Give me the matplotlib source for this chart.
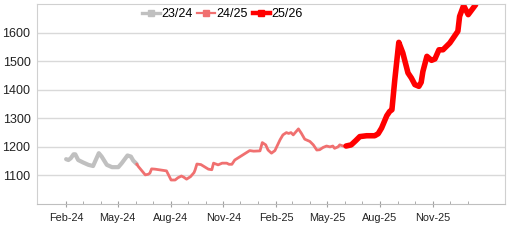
# price chart, three seasons

import matplotlib
matplotlib.use("Agg")
import matplotlib.pyplot as plt
import matplotlib.dates as mdates
from matplotlib.lines import Line2D
import numpy as np
import pandas as pd

plt.rcParams['font.family'] = ['Liberation Sans', 'DejaVu Sans']
plt.rcParams['font.size'] = 8

# season 23/24
d2324 = ['2024-02-01', '2024-02-05', '2024-02-09', '2024-02-14', '2024-02-17', '2024-02-22',
         '2024-03-02', '2024-03-11', '2024-03-19', '2024-03-29', '2024-04-03', '2024-04-12',
         '2024-04-21', '2024-05-02', '2024-05-08', '2024-05-18', '2024-05-24', '2024-05-28',
         '2024-06-03']
v2324 = [1157, 1154, 1160, 1174, 1174, 1154, 1145, 1137, 1133, 1178, 1166, 1137,
         1129, 1129, 1143, 1170, 1166, 1152, 1140]

# season 24/25
d2425 = ['2024-06-03', '2024-06-06', '2024-06-18', '2024-06-23', '2024-06-26', '2024-06-29',
         '2024-07-05', '2024-07-25', '2024-07-29', '2024-08-02', '2024-08-09', '2024-08-14',
         '2024-08-20', '2024-08-24', '2024-08-29', '2024-09-05', '2024-09-11', '2024-09-13',
         '2024-09-16', '2024-09-23', '2024-10-06', '2024-10-12', '2024-10-15', '2024-10-23',
         '2024-10-30', '2024-11-07', '2024-11-11', '2024-11-16', '2024-11-21', '2024-12-17',
         '2024-12-24', '2025-01-04', '2025-01-08', '2025-01-14', '2025-01-18', '2025-01-24',
         '2025-01-30', '2025-02-08', '2025-02-13', '2025-02-19', '2025-02-23', '2025-02-27',
         '2025-03-03', '2025-03-12', '2025-03-17', '2025-03-23', '2025-04-01', '2025-04-07',
         '2025-04-13', '2025-04-18', '2025-04-24', '2025-04-30', '2025-05-06', '2025-05-11',
         '2025-05-14', '2025-05-20', '2025-05-23', '2025-05-29', '2025-06-03']
v2425 = [1140, 1131, 1102, 1104, 1108, 1123,
         1122, 1116, 1100, 1084, 1084, 1092,
         1098, 1094, 1087, 1096, 1110, 1120,
         1140, 1138, 1122, 1120, 1143, 1137,
         1143, 1143, 1139, 1139, 1154, 1187,
         1185, 1186, 1215, 1207, 1189, 1178,
         1187, 1225, 1242, 1250, 1247, 1250,
         1242, 1263, 1248, 1227, 1219, 1207,
         1189, 1190, 1198, 1203, 1200, 1203,
         1195, 1200, 1207, 1203, 1203]

# season 25/26
d2526 = ['2025-06-03', '2025-06-12', '2025-06-20', '2025-06-27', '2025-07-09', '2025-07-23',
         '2025-07-29', '2025-08-04', '2025-08-13', '2025-08-18', '2025-08-22', '2025-08-27',
         '2025-09-03', '2025-09-10', '2025-09-19', '2025-09-25', '2025-10-01', '2025-10-08',
         '2025-10-12', '2025-10-15', '2025-10-22', '2025-10-30', '2025-11-05', '2025-11-12',
         '2025-11-19', '2025-12-01', '2025-12-15', '2025-12-18', '2025-12-25', '2026-01-02',
         '2026-01-15']
v2526 = [1203, 1207, 1222, 1236, 1239, 1239,
         1246, 1266, 1309, 1324, 1330, 1435,
         1566, 1529, 1459, 1441, 1418, 1412,
         1426, 1464, 1517, 1503, 1508, 1540,
         1540, 1564, 1605, 1657, 1695, 1663,
         1698]

labels = ['23/24', '24/25', '25/26']
colors = ['#c0c0c0', '#f07070', '#ff0000']
widths = [3, 2, 4]

fig = plt.figure(figsize=(5.2, 2.4), dpi=100)
ax = fig.add_axes([0.072, 0.15, 0.899, 0.833])

series = [(d2324, v2324), (d2425, v2425), (d2526, v2526)]
for (d, v), c, w in zip(series, colors, widths):
    ax.plot(pd.to_datetime(d), v, color=c, lw=w, solid_capstyle='round', solid_joinstyle='round')

ax.set_ylim(1000, 1700)
ax.set_yticks(np.arange(1100, 1700, 100))
ax.set_xlim(pd.Timestamp('2023-12-13'), pd.Timestamp('2026-03-07'))

major = pd.date_range('2024-02-01', '2025-11-01', freq='3MS')
minor = pd.date_range('2024-02-01', '2026-01-01', freq='MS')
ax.set_xticks(major)
ax.set_xticks(minor, minor=True)
ax.xaxis.set_major_formatter(mdates.DateFormatter('%b-%y'))

ax.grid(axis='y', color='#d9d9d9', lw=1)
ax.set_axisbelow(True)
for s in ax.spines.values():
    s.set_color('#d0d0d0')
ax.spines['bottom'].set_color('#bfbfbf')
ax.tick_params(axis='y', length=0, pad=5, colors='#222222', labelsize=9)
ax.tick_params(axis='x', which='major', direction='inout', length=5, color='#a0a0a0',
               labelcolor='#222222', pad=4, labelsize=7.8)
ax.tick_params(axis='x', which='minor', direction='in', length=2, color='#a0a0a0')

handles = [Line2D([], [], color=c, lw=w * 0.8, marker='s', markersize=4) for c, w in zip(colors, widths)]
ax.legend(handles, labels, loc='center', bbox_to_anchor=(0.396, 0.95), ncol=3, frameon=False,
          handlelength=1.4, handletextpad=0.1, columnspacing=0.4, fontsize=9)

fig.savefig('out.png', dpi=100)
